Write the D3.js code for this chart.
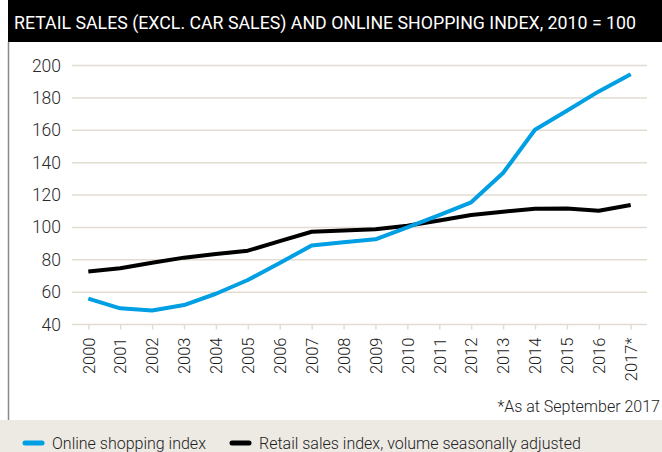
<!DOCTYPE html>
<html>
<head>
<meta charset="utf-8">
<title>Retail sales and online shopping index</title>
<script src="https://d3js.org/d3.v7.min.js"></script>
<style>
  body { margin: 0; background: #fff; }
  text { font-family: Roboto, "DejaVu Sans", sans-serif; }
</style>
</head>
<body>
<svg id="chart" width="662" height="452"></svg>
<script>
// data
const years = ["2000", "2001", "2002", "2003", "2004", "2005", "2006", "2007", "2008",
  "2009", "2010", "2011", "2012", "2013", "2014", "2015", "2016", "2017*"];
const online = [56, 50, 48.6, 52, 59, 67.5, 78, 88.8, 90.8, 92.6, 100, 107.5, 115.5, 133.6, 160.3, 172, 184, 194.6];
const retail = [72.7, 74.7, 78.2, 81.3, 83.5, 85.6, 91.5, 97.3, 98, 98.8, 101, 104.3, 107.7, 109.7, 111.5, 111.7, 110.3, 113.8];
const yTicks = [40, 60, 80, 100, 120, 140, 160, 180, 200];

const title = "RETAIL SALES (EXCL. CAR SALES) AND ONLINE SHOPPING INDEX, 2010 = 100";
const note = "*As at September 2017";
const legendItems = [
  { label: "Online shopping index", color: "#009fe3" },
  { label: "Retail sales index, volume seasonally adjusted", color: "#000" }
];

const svg = d3.select("#chart");
const W = 662, H = 452;

// title bar
svg.append("rect").attr("x", 8).attr("y", 0).attr("width", W - 8).attr("height", 42).attr("fill", "#000");
svg.append("text").attr("x", 14).attr("y", 28.5)
  .attr("fill", "#fff").attr("font-size", 18)
  .attr("textLength", 622).attr("lengthAdjust", "spacingAndGlyphs")
  .text(title);

// left frame line
svg.append("line").attr("x1", 8.5).attr("x2", 8.5).attr("y1", 42).attr("y2", 420)
  .attr("stroke", "#8a8a8a").attr("stroke-width", 1.5);

// legend band
svg.append("rect").attr("x", 0).attr("y", 420).attr("width", W).attr("height", H - 420).attr("fill", "#ede9e3");

const x = d3.scalePoint().domain(years).range([88.3, 630.7]);
const y = d3.scaleLinear().domain([40, 200]).range([324.5, 65.5]);

// gridlines + y labels
const yAxis = d3.axisLeft(y).tickValues(yTicks).tickSize(0).tickPadding(11);
const gy = svg.append("g").attr("transform", "translate(72,0)").call(yAxis);
gy.select(".domain").remove();
gy.selectAll("text").attr("font-size", 17.5).attr("font-weight", 300).attr("fill", "#2a2a2a");
svg.append("g").selectAll("line").data(yTicks).join("line")
  .attr("x1", 72).attr("x2", 647)
  .attr("y1", d => y(d)).attr("y2", d => y(d))
  .attr("stroke", "#e3dcd1").attr("stroke-width", 1.5);

// x axis
const xAxis = d3.axisBottom(x).tickSize(5).tickPadding(8);
const gx = svg.append("g").attr("transform", `translate(0,${y(40)})`).call(xAxis);
gx.select(".domain").remove();
gx.selectAll(".tick line").attr("stroke", "#e3dcd1").attr("stroke-width", 1.5);
gx.selectAll("text")
  .attr("font-size", 16.5).attr("font-weight", 300).attr("fill", "#1a1a1a")
  .attr("text-anchor", "end")
  .attr("transform", "rotate(-90)")
  .attr("x", -13).attr("y", 0).attr("dy", "0.35em");

// lines
const line = d3.line().x((d, i) => x(years[i])).y(d => y(d));
svg.append("path").datum(retail).attr("d", line)
  .attr("fill", "none").attr("stroke", "#000").attr("stroke-width", 4).attr("stroke-linejoin", "round");
svg.append("path").datum(online).attr("d", line)
  .attr("fill", "none").attr("stroke", "#009fe3").attr("stroke-width", 4).attr("stroke-linejoin", "round");

// footnote
svg.append("text").attr("x", 660).attr("y", 412).attr("text-anchor", "end")
  .attr("font-size", 16).attr("font-weight", 300).attr("fill", "#222").text(note);

// legend
const legX = [25, 232];
const lg = svg.append("g").selectAll("g").data(legendItems).join("g")
  .attr("transform", (d, i) => `translate(${legX[i]},443)`);
lg.append("line").attr("x1", 0).attr("x2", 17)
  .attr("stroke", d => d.color).attr("stroke-width", 5).attr("stroke-linecap", "round");
lg.append("text").attr("x", 27).attr("y", 5.5)
  .attr("font-size", 16).attr("font-weight", 300).attr("fill", "#222").text(d => d.label);
</script>
</body>
</html>
